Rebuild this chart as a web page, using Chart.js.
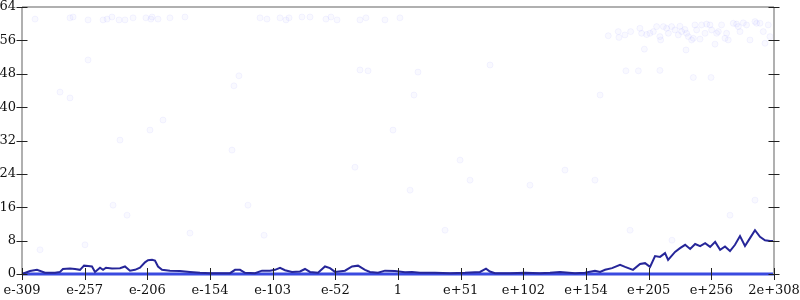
<html>
<head>
<meta charset="utf-8">
<title>Exponent chart</title>
<script src="https://cdn.jsdelivr.net/npm/chart.js"></script>
<style>
  body { margin: 0; background: #fff; }
  #box { width: 800px; height: 300px; }
</style>
</head>
<body>
<div id="box"><canvas id="expChart"></canvas></div>
<script>
const xMin = -309
const xMax = 308
const xTickLabels = ['e-309', 'e-257', 'e-206', 'e-154', 'e-103', 'e-52', '1',
  'e+51', 'e+102', 'e+154', 'e+205', 'e+256', '2e+308']

// dark line (x = exponent)
const lineX = [-309, -302.4, -296.7, -290.1, -281.9, -277.8, -275.4, -269.6, -265.5, -261.4,
  -258.1, -254.8, -251.6, -249.1, -245.0, -242.5, -240.1, -235.2, -228.6, -224.5,
  -220.4, -216.3, -212.2, -208.1, -205.6, -202.3, -199.9, -197.4, -194.1, -187.6,
  -179.4, -171.2, -163.0, -154.7, -146.5, -138.3, -134.2, -130.1, -126.0, -117.8,
  -112.1, -105.5, -101.4, -97.3, -93.2, -87.5, -80.9, -76.8, -72.7, -66.1,
  -60.4, -56.3, -52.2, -44.0, -38.2, -33.3, -27.6, -23.5, -16.9, -11.2,
  -3.0, 5.2, 11.0, 17.5, 29.9, 42.2, 54.5, 66.8, 71.7, 74.9,
  79.1, 91.4, 103.7, 116.0, 124.2, 132.4, 144.7, 152.9, 161.1, 165.3,
  169.4, 175.1, 181.7, 185.8, 192.3, 198.1, 202.2, 206.3, 210.4, 214.5,
  218.6, 221.1, 226.8, 230.9, 235.1, 239.2, 243.3, 247.4, 251.5, 255.6,
  259.7, 263.8, 267.8, 271.9, 276.0, 280.1, 284.2, 288.3, 292.4, 296.5,
  300.6, 304.7, 308]
const lineY = [0, 0.7, 1.0, 0.3, 0.3, 0.5, 1.2, 1.3, 1.2, 1.0,
  2.0, 1.9, 1.8, 0.5, 1.5, 1.0, 1.5, 1.3, 1.4, 1.8,
  0.8, 1.0, 1.5, 2.8, 3.3, 3.4, 3.2, 1.8, 1.0, 0.8,
  0.7, 0.5, 0.3, 0.2, 0.2, 0.2, 1.0, 1.0, 0.3, 0.2,
  0.8, 0.8, 1.0, 1.5, 0.9, 0.5, 0.6, 1.2, 0.5, 0.3,
  1.8, 1.4, 0.5, 0.8, 1.8, 2.0, 1.0, 0.5, 0.3, 0.8,
  0.7, 0.4, 0.5, 0.3, 0.3, 0.2, 0.3, 0.5, 1.3, 0.6,
  0.2, 0.2, 0.3, 0.2, 0.3, 0.5, 0.2, 0.3, 0.8, 0.5,
  1.0, 1.4, 2.2, 1.7, 1.0, 2.4, 2.6, 1.7, 4.3, 4.1,
  5.0, 3.4, 5.3, 6.2, 7.0, 6.0, 7.2, 6.7, 7.4, 6.5,
  7.7, 5.8, 6.6, 5.5, 7.0, 9.1, 6.7, 8.6, 10.5, 8.9,
  8.1, 7.9, 7.9]

// blue line along zero
const baseX = [-309, 308]
const baseY = [0, 0]

// faint dots
const dotX = [-298.3, -269.6, -267.1, -254.8, -242.5, -239.2, -235.2, -229.4, -224.5, -217.9,
  -207.3, -203.2, -202.3, -197.4, -187.6, -175.3,
  -113.7, -108.0, -97.3, -92.4, -89.9, -79.3, -72.7, -59.6, -55.5, -50.5,
  -31.7, -26.8, -11.2, 1.1,
  172.0, 180.2, 180.8, 185.7, 190.4, 198.0, 199.4, 203.5, 206.2, 209.0,
  211.7, 214.4, 215.0, 217.2, 219.9, 221.3, 224.0, 226.7, 229.5, 230.8,
  232.2, 234.9, 236.3, 237.7, 240.4, 241.8, 243.1, 244.5, 247.3, 248.6,
  251.4, 252.7, 255.5, 256.8, 259.6, 260.9, 262.3, 265.0, 267.8, 269.1,
  270.5, 274.6, 277.3, 278.7, 280.1, 282.8, 285.5, 288.3, 292.4, 293.7,
  296.5, 299.2, 300.6, 303.3, 304.7, 201.6, 235.8, 186.5, 196.7, 214.4,
  241.8, 256.3,
  -277.8, -269.6, -254.8, -131.0, -135.1, -31.7, -25.1, 15.9, 75.0, 12.6,
  -4.6, -228.6, -204.0, -193.3, -136.7, -123.6, -110.4, -35.8, 50.4, 58.6,
  38.1, 9.4, 107.8, 136.5, 161.1, 165.3, 189.9, 224.3, 271.9, 292.4,
  -294.2, -257.3, -234.3, -222.8, -171.2]
const dotY = [61.1, 61.4, 61.6, 60.9, 60.9, 61.1, 61.6, 60.9, 60.9, 61.4,
  61.4, 61.1, 61.6, 61.1, 61.4, 61.6,
  61.4, 61.1, 61.4, 60.9, 61.4, 61.6, 61.6, 61.1, 61.6, 60.9,
  60.9, 61.4, 60.9, 61.4,
  57.1, 58.1, 56.7, 57.3, 58.1, 58.9, 57.7, 57.4, 57.7, 58.1,
  59.3, 56.9, 56.1, 59.3, 58.9, 57.7, 59.3, 58.5, 57.3, 59.4,
  58.1, 58.6, 57.7, 56.9, 56.1, 56.5, 59.7, 58.5, 56.3, 59.7,
  57.7, 59.9, 59.7, 58.5, 55.1, 57.7, 58.1, 59.7, 56.5, 57.7,
  56.1, 60.1, 59.9, 59.3, 58.1, 60.2, 59.7, 56.1, 60.5, 60.1,
  60.1, 58.1, 55.3, 59.7, 56.9, 53.9, 53.7, 48.7, 48.7, 48.8,
  47.1, 47.1,
  43.6, 42.2, 51.3, 47.5, 45.1, 48.9, 48.7, 48.4, 50.1, 42.9,
  34.5, 32.1, 34.5, 36.9, 29.7, 16.5, 9.3, 25.6, 27.3, 22.5,
  10.5, 20.1, 21.3, 24.9, 22.5, 42.9, 10.5, 8.1, 14.1, 17.7,
  5.8, 7.0, 16.5, 14.1, 9.8]

function pairs(xs, ys) {
  return xs.map((x, i) => ({ x: x, y: ys[i] }))
}

// gray frame and tick marks that cross the axis lines
const axisMarks = {
  id: 'axisMarks',
  afterDraw(chart) {
    const ctx = chart.ctx
    const a = chart.chartArea
    const xs = chart.scales.x
    const ys = chart.scales.y
    ctx.save()
    ctx.strokeStyle = '#b0b0b0'
    ctx.lineWidth = 2
    ctx.beginPath()
    ctx.moveTo(a.left, a.top)
    ctx.lineTo(a.right, a.top)
    ctx.moveTo(a.left, a.top)
    ctx.lineTo(a.left, a.bottom)
    ctx.moveTo(a.right, a.top)
    ctx.lineTo(a.right, a.bottom)
    ctx.stroke()

    ctx.strokeStyle = '#222'
    ctx.lineWidth = 1
    ctx.beginPath()
    ys.ticks.forEach(t => {
      const y = Math.round(ys.getPixelForValue(t.value)) + 0.5
      const h = t.value % 8 === 0 ? 5.5 : 2.5
      ctx.moveTo(a.left - h, y)
      ctx.lineTo(a.left + h, y)
      ctx.moveTo(a.right - h, y)
      ctx.lineTo(a.right + h, y)
    })
    xs.ticks.forEach(t => {
      const x = Math.round(xs.getPixelForValue(t.value)) + 0.5
      ctx.moveTo(x, a.bottom - 6)
      ctx.lineTo(x, a.bottom + 6)
    })
    ctx.stroke()
    ctx.restore()
  }
}

const config = {
  type: 'scatter',
  data: {
    datasets: [
      {
        data: pairs(lineX, lineY),
        showLine: true,
        borderColor: '#262699',
        borderWidth: 2,
        pointRadius: 0,
        clip: 5
      },
      {
        data: pairs(baseX, baseY),
        showLine: true,
        borderColor: '#3a4ae0',
        borderWidth: 3,
        pointRadius: 0,
        clip: 5
      },
      {
        data: pairs(dotX, dotY),
        pointRadius: 3,
        backgroundColor: 'rgba(110, 110, 255, 0.045)',
        borderColor: 'rgba(110, 110, 255, 0.07)',
        borderWidth: 1
      }
    ]
  },
  options: {
    responsive: false,
    animation: false,
    layout: { padding: 0 },
    plugins: {
      legend: { display: false },
      tooltip: { enabled: false }
    },
    scales: {
      x: {
        type: 'linear',
        min: xMin,
        max: xMax,
        afterBuildTicks: s => {
          s.ticks = xTickLabels.map((l, i) => ({ value: xMin + i * (xMax - xMin) / 12 }))
        },
        // fixed size, labels may hang over the side margins
        afterFit: s => {
          s.height = 26
          s.paddingLeft = 0
          s.paddingRight = 0
        },
        grid: { display: true, drawOnChartArea: false, drawTicks: false },
        border: { display: false },
        ticks: {
          autoSkip: false,
          maxRotation: 0,
          padding: 9,
          color: '#111',
          font: { family: 'DejaVu Serif', size: 13 },
          callback: (v, i) => xTickLabels[i]
        }
      },
      y: {
        min: 0,
        max: 64,
        afterFit: s => {
          s.width = 22
          s.paddingTop = 7
          s.paddingBottom = 0
        },
        grid: { display: true, drawOnChartArea: false, drawTicks: false },
        border: { display: false },
        ticks: {
          stepSize: 4,
          padding: 6,
          color: '#111',
          font: { family: 'DejaVu Serif', size: 13 },
          callback: v => (v % 8 === 0 ? v : '')
        }
      },
      y2: {
        position: 'right',
        min: 0,
        max: 64,
        afterFit: s => {
          s.width = 26
          s.paddingTop = 0
          s.paddingBottom = 0
        },
        grid: { display: false },
        border: { display: false },
        ticks: { display: false }
      }
    }
  },
  plugins: [axisMarks]
}

const canvas = document.getElementById('expChart')
canvas.width = 800
canvas.height = 300
new Chart(canvas, config)
</script>
</body>
</html>
